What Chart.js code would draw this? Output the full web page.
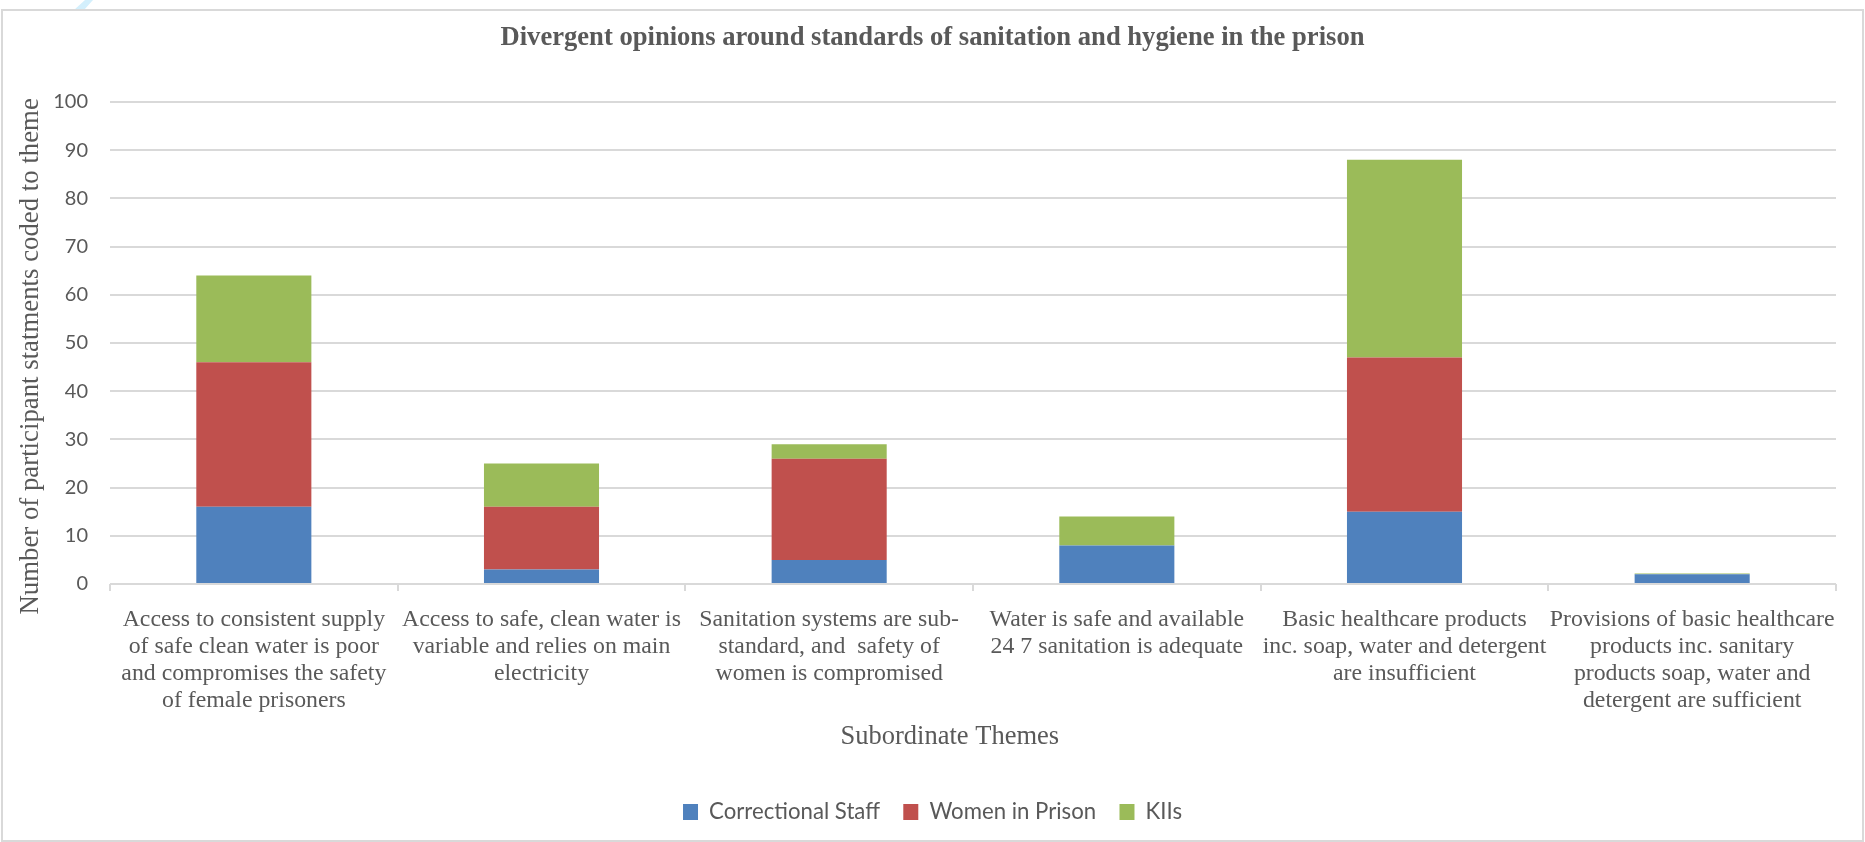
<!DOCTYPE html>
<html>
<head>
<meta charset="utf-8">
<title>Divergent opinions around standards of sanitation and hygiene in the prison</title>
<script src="https://cdn.jsdelivr.net/npm/chart.js@4.4.1/dist/chart.umd.min.js"></script>
<style>
  html, body { margin: 0; padding: 0; background: #fff; }
  canvas { display: block; }
</style>
</head>
<body>
<canvas id="myChart" width="1865" height="842"></canvas>
<script>
// Subordinate themes (x axis), each label split into its printed lines
var themes = [
    ['Access to consistent supply', 'of safe clean water is poor', 'and compromises the safety', 'of female prisoners'],
    ['Access to safe, clean water is', 'variable and relies on main', 'electricity'],
    ['Sanitation systems are sub-', 'standard, and  safety of', 'women is compromised'],
    ['Water is safe and available', '24 7 sanitation is adequate'],
    ['Basic healthcare products', 'inc. soap, water and detergent', 'are insufficient'],
    ['Provisions of basic healthcare', 'products inc. sanitary', 'products soap, water and', 'detergent are sufficient']
];

// Number of statements coded to each theme, per participant group
var correctionalStaff = [16, 3, 5, 8, 15, 2];
var womenInPrison     = [30, 13, 21, 0, 32, 0];
var kiis              = [18, 9, 3, 6, 41, 0.2];

// y axis tick values
var yTickValues = [0, 10, 20, 30, 40, 50, 60, 70, 80, 90, 100];

var serif = '"Liberation Serif", "Times New Roman", serif';
var sans = 'Lato, "Noto Sans", sans-serif';
var textGrey = '#595959';
var gridGrey = '#d9d9d9';

// white page, chart frame and the small pale stroke above its top-left corner
var framePlugin = {
    id: 'frame',
    beforeDraw: function(chart) {
        var c = chart.ctx;
        c.save();
        c.fillStyle = '#ffffff';
        c.fillRect(0, 0, chart.width, chart.height);

        c.fillStyle = '#d3effc';
        c.beginPath();
        c.moveTo(85, 0);
        c.lineTo(93, 0);
        c.lineTo(84, 10);
        c.lineTo(74, 10);
        c.closePath();
        c.fill();

        c.strokeStyle = gridGrey;
        c.lineWidth = 2;
        c.strokeRect(2, 10, 1861, 831);
        c.restore();
    }
};

// axis titles sit a little off the plot centre; trailing blanks push them along the axis
function pad(text, n) {
    return text + '\u00a0'.repeat(n);
}

var ctx = document.getElementById('myChart').getContext('2d');
var chart = new Chart(ctx, {
    type: 'bar',
    data: {
        labels: themes,
        datasets: [{
            label: 'Correctional Staff',
            data: correctionalStaff,
            backgroundColor: '#4f81bd'
        }, {
            label: 'Women in Prison',
            data: womenInPrison,
            backgroundColor: '#c0504d'
        }, {
            label: 'KIIs',
            data: kiis,
            backgroundColor: '#9bbb59'
        }]
    },
    plugins: [framePlugin],
    options: {
        responsive: false,
        animation: false,
        layout: {
            padding: { left: 0, right: 0, top: 0, bottom: 8.9 }
        },
        datasets: {
            bar: { barPercentage: 0.4, categoryPercentage: 1 }
        },
        plugins: {
            title: {
                display: true,
                text: 'Divergent opinions around standards of sanitation and hygiene in the prison',
                color: textGrey,
                font: { family: serif, size: 26.6, weight: 'bold', lineHeight: 1.2 },
                padding: { top: 22, bottom: 48 }
            },
            legend: {
                position: 'bottom',
                labels: {
                    color: textGrey,
                    font: { family: sans, size: 22.2 },
                    boxWidth: 15,
                    boxHeight: 16,
                    padding: 23.3
                }
            },
            tooltip: { enabled: false }
        },
        scales: {
            x: {
                stacked: true,
                grid: {
                    offset: true,
                    drawOnChartArea: false,
                    drawTicks: true,
                    tickLength: 7,
                    color: gridGrey,
                    lineWidth: 2
                },
                border: { display: false },
                ticks: {
                    color: textGrey,
                    font: { family: serif, size: 23.8, lineHeight: 1.13 },
                    padding: 15.5,
                    maxRotation: 0,
                    minRotation: 0,
                    autoSkip: false
                },
                title: {
                    display: true,
                    text: pad('Subordinate Themes', 7),
                    color: textGrey,
                    font: { family: serif, size: 26.5, lineHeight: 1.2 },
                    padding: { top: 0, bottom: 24.2 }
                },
                afterFit: function(scale) { scale.height = 193.6; }
            },
            y: {
                stacked: true,
                min: 0,
                max: 100,
                afterBuildTicks: function(scale) {
                    scale.ticks = yTickValues.map(function(v) { return { value: v }; });
                },
                grid: { color: gridGrey, lineWidth: 2, drawTicks: false },
                border: { display: false },
                ticks: {
                    color: textGrey,
                    font: { family: sans, size: 20 },
                    padding: 22
                },
                title: {
                    display: true,
                    text: pad('Number of participant statments coded to theme', 4),
                    color: textGrey,
                    font: { family: serif, size: 26.8, lineHeight: 1.2 },
                    padding: { top: 15.2, bottom: 0 }
                },
                afterFit: function(scale) { scale.width = 110; }
            },
            // empty right-hand gutter so the plot ends short of the frame
            gutter: {
                type: 'linear',
                position: 'right',
                grid: { display: false },
                border: { display: false },
                ticks: { display: false },
                title: { display: false },
                afterFit: function(scale) { scale.width = 29; }
            }
        }
    }
});
</script>
</body>
</html>
